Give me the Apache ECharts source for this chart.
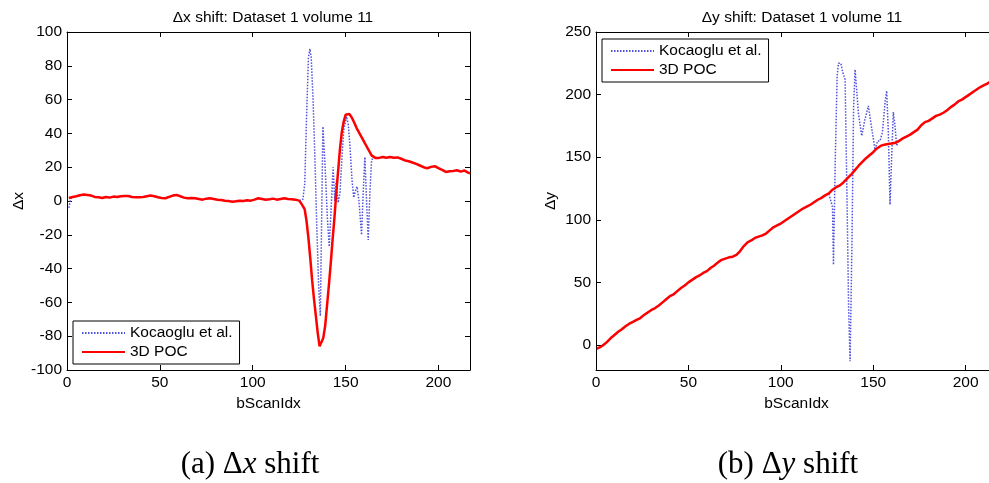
<!DOCTYPE html>
<html>
<head>
<meta charset="utf-8">
<script src="https://cdn.jsdelivr.net/npm/echarts@6/dist/echarts.min.js"></script>
<style>
html,body{margin:0;padding:0;background:#fff;}
#chart{width:989px;height:483px;}
</style>
</head>
<body>
<div id="chart"></div>
<script>
// ---------- data ----------
const xTicks = [0, 50, 100, 150, 200];
const dxTicks = [-100, -80, -60, -40, -20, 0, 20, 40, 60, 80, 100];
const dyTicks = [0, 50, 100, 150, 200, 250];

// 3D POC, delta x
const pocDxIdx = [1,3,5,7,9,11,13,15,17,19,21,23,25,27,29,31,33,35,37,39,41,43,45,47,49,51,53,55,57,59,61,63,65,67,69,71,73,75,77,79,81,83,85,87,89,91,93,95,97,99,101,103,105,107,109,111,113,115,117,119,121,123,125,126,127,128,129,130,131,132,133,134,135,136,137,138,139,140,141,142,143,144,145,146,147,148,149,150,151,152,153,154,155,156,157,158,159,160,161,162,163,164,165,166,168,170,172,174,176,178,180,182,184,186,188,190,192,194,196,198,200,202,204,206,208,210,212,214,216,217];
const pocDx = [1.8,2.4,2.8,3.4,3.8,3.6,3.2,2.4,2.2,1.8,2.4,2.0,2.6,2.4,2.8,3.0,3.0,2.4,2.2,2.2,2.4,2.8,3.2,2.8,2.2,1.8,1.6,2.4,3.2,3.6,2.8,2.0,1.6,1.8,1.6,1.2,0.8,1.4,1.6,1.2,0.8,0.6,0.2,0.0,-0.4,-0.2,0.2,0.0,0.4,0.2,0.8,1.6,1.2,0.8,1.0,1.4,0.8,1.2,1.6,1.2,1.0,0.8,0.2,-1.2,-3,-5,-12,-22,-34,-47,-58,-68,-78,-86,-85,-81,-74,-62,-50,-37,-23,-10,5,18,31,41,47,51,52,51.5,50,48,45.5,43,41,39,37,35,33,31,29,27,26,25.5,25.5,26,25.6,26,25.6,25.8,25,24,23.5,22.8,22,21,20,19.4,20.2,20.6,19.4,18.4,17.2,17.6,17.8,18.2,17.4,18.0,16.8,16.4];

// Kocaoglu et al., delta x (start and oscillating section; elsewhere it follows the POC curve)
const kocDxStartIdx = [1, 2];
const kocDxStart = [-4, 1.5];
const kocDxOscIdx = [126,127,128,129,130,130.8,131.5,132.5,133.5,134.5,135.5,136.4,137,137.8,139,140.2,141.2,142.2,143.3,144.2,145,146,147,148,149,150.5,151.5,152.5,153.5,154.4,155.3,156.2,157.2,158.6,159.5,160.4,161.3,162.2,163.1,164,165];
const kocDxOsc = [0.5,1,10,50,85,90,85,60,25,-15,-50,-68,-20,44,20,-10,-27,-5,20,0,12,-1,5,25,42,50,45,30,12,2,6,8.5,0,-20,5,26,0,-23,5,24,26];

// 3D POC, delta y
const pocDyIdx = [0.5,2,4,6,8,10,12,14,16,18,20,22,24,26,28,30,32,34,36,38,40,42,44,46,48,50,52,54,56,58,60,62,64,66,68,70,72,74,76,78,80,82,84,86,88,90,92,94,96,98,100,102,104,106,108,110,112,114,116,118,120,122,124,126,128,130,132,134,136,138,140,142,144,146,148,150,152,154,156,158,160,162,164,166,168,170,172,174,176,178,180,182,184,186,188,190,192,194,196,198,200,202,204,206,208,210,212,214,216,217];
const pocDy = [-3,-2,0,2.5,5.5,8,10.5,12.5,15,17,18.5,20,21.5,24,26,28,29.5,31.5,34,36.5,39,40.5,43,45.5,47.5,50,52,54,55.5,57.5,59,61.5,63.5,66,68,69,70,70.5,72,75,79,82,83.5,85.5,86.5,87.5,89,91.5,94,95.5,97,99,101,103,105,107,109,110.5,112,114,116,117.5,119.5,121,124,126,127.5,130,133,136,139.5,143,146,149,151.5,154,157,159,160,160.5,161,161.5,163,165,166.5,168,170,172,175.5,178,179,181,183,184,185.5,187.5,190,192,194.5,196,198,200,202,204,206,207.5,209,211,213,214];

// Kocaoglu et al., delta y oscillating section
const kocDyOscIdx = [126,127,128,128.5,129.5,130.5,131.2,132.5,133.5,134.8,135.8,136.7,137.5,138.5,139.4,140.2,141,142,143.8,145.5,147.4,149,151,152.4,153.7,155,156.5,157.3,158.2,159.1,160,160.9,161.8,162.7,163.6];
const kocDyOsc = [121,122,110,64,150,215,225,225,218,212,120,30,-13,80,190,220,205,185,167,180,191,175,156,163,163,170,195,203,170,112,150,186,175,159,163];

// ---------- build point lists ----------
function pts(xs, ys) { return xs.map((x, i) => [x, ys[i]]); }
const pocDxPts = pts(pocDxIdx, pocDx);
const kocDxPts = pts(kocDxStartIdx, kocDxStart)
  .concat(pocDxPts.filter(p => p[0] > 2 && p[0] < kocDxOscIdx[0]))
  .concat(pts(kocDxOscIdx, kocDxOsc))
  .concat(pocDxPts.filter(p => p[0] > kocDxOscIdx[kocDxOscIdx.length - 1]));
const pocDyPts = pts(pocDyIdx, pocDy);
const kocDyPts = pocDyPts.filter(p => p[0] < kocDyOscIdx[0])
  .concat(pts(kocDyOscIdx, kocDyOsc))
  .concat(pocDyPts.filter(p => p[0] > kocDyOscIdx[kocDyOscIdx.length - 1]));

// ---------- chart ----------
const FONT = 'Liberation Sans, Arial, sans-serif';
const FS = 15.5;
const BLUE = '#5050dc';
const RED = '#ff0000';
const names = ['Kocaoglu et al.', '3D POC'];

function xAx(grid, top) {
  return {
    gridIndex: grid, type: 'value', min: 0, max: 217,
    position: top ? 'top' : 'bottom',
    axisLine: { show: true, onZero: false, lineStyle: { color: '#000', width: 1 } },
    axisTick: { show: true, inside: true, length: 5, customValues: xTicks, lineStyle: { color: '#000' } },
    axisLabel: { show: !top, customValues: xTicks, color: '#000', fontSize: FS, fontFamily: FONT, margin: 5 },
    splitLine: { show: false },
    name: top ? '' : 'bScanIdx', nameLocation: 'middle', nameGap: 26,
    nameTextStyle: { color: '#000', fontSize: FS, fontFamily: FONT }
  };
}
function yAx(grid, right, min, max, ticks, name, gap) {
  return {
    gridIndex: grid, type: 'value', min: min, max: max,
    position: right ? 'right' : 'left',
    axisLine: { show: true, onZero: false, lineStyle: { color: '#000', width: 1 } },
    axisTick: { show: true, inside: true, length: 5, customValues: ticks, lineStyle: { color: '#000' } },
    axisLabel: { show: !right, customValues: ticks, color: '#000', fontSize: FS, fontFamily: FONT, margin: 5 },
    splitLine: { show: false },
    name: right ? '' : name, nameLocation: 'middle', nameGap: gap, nameRotate: 90,
    nameTextStyle: { color: '#000', fontSize: FS, fontFamily: FONT }
  };
}
function legend(left, top) {
  return {
    data: names, orient: 'vertical', left: left, top: top,
    backgroundColor: '#fff', borderColor: '#000', borderWidth: 1,
    padding: [4, 7, 4, 8], itemGap: 3, itemWidth: 43, itemHeight: 14,
    selectedMode: false,
    itemStyle: { opacity: 0 },
    textStyle: { color: '#000', fontSize: FS, fontFamily: FONT }
  };
}

const chart = echarts.init(document.getElementById('chart'), null, { renderer: 'canvas' });
chart.setOption({
  animation: false,
  backgroundColor: '#fff',
  title: [
    { text: 'Δx shift: Dataset 1 volume 11', left: 268, top: 5, textAlign: 'center',
      textStyle: { color: '#000', fontSize: FS, fontWeight: 'normal', fontFamily: FONT } },
    { text: 'Δy shift: Dataset 1 volume 11', left: 797, top: 5, textAlign: 'center',
      textStyle: { color: '#000', fontSize: FS, fontWeight: 'normal', fontFamily: FONT } }
  ],
  grid: [
    { left: 67, top: 32, width: 403, height: 338, show: false, outerBoundsMode: 'none', containLabel: false },
    { left: 596, top: 32, width: 401, height: 338, show: false, outerBoundsMode: 'none', containLabel: false }
  ],
  xAxis: [xAx(0, false), xAx(0, true), xAx(1, false), xAx(1, true)],
  yAxis: [
    yAx(0, false, -100, 100, dxTicks, 'Δx', 39),
    yAx(0, true, -100, 100, dxTicks, '', 0),
    yAx(1, false, -20, 250, dyTicks, 'Δy', 37),
    yAx(1, true, -20, 250, dyTicks, '', 0)
  ],
  legend: [legend(73, 321), legend(602, 39)],
  series: [
    { name: names[0], type: 'line', xAxisIndex: 0, yAxisIndex: 0, data: kocDxPts, symbol: 'none',
      lineStyle: { color: BLUE, width: 1.5, type: [1.5, 1.5] }, itemStyle: { color: BLUE } },
    { name: names[1], type: 'line', xAxisIndex: 0, yAxisIndex: 0, data: pocDxPts, symbol: 'none',
      lineStyle: { color: RED, width: 2.5 }, itemStyle: { color: RED } },
    { name: names[0], type: 'line', xAxisIndex: 2, yAxisIndex: 2, data: kocDyPts, symbol: 'none',
      lineStyle: { color: BLUE, width: 1.5, type: [1.5, 1.5] }, itemStyle: { color: BLUE } },
    { name: names[1], type: 'line', xAxisIndex: 2, yAxisIndex: 2, data: pocDyPts, symbol: 'none',
      lineStyle: { color: RED, width: 2.5 }, itemStyle: { color: RED } }
  ],
  graphic: [
    { type: 'text', x: 250, y: 465,
      style: { text: '{n|(a) Δ}{i|x}{n| shift}', align: 'center', verticalAlign: 'middle',
        rich: { n: { fontSize: 31, fontFamily: 'Liberation Serif, serif', fill: '#000' },
                i: { fontSize: 31, fontFamily: 'Liberation Serif, serif', fontStyle: 'italic', fill: '#000' } } } },
    { type: 'text', x: 788, y: 465,
      style: { text: '{n|(b) Δ}{i|y}{n| shift}', align: 'center', verticalAlign: 'middle',
        rich: { n: { fontSize: 31, fontFamily: 'Liberation Serif, serif', fill: '#000' },
                i: { fontSize: 31, fontFamily: 'Liberation Serif, serif', fontStyle: 'italic', fill: '#000' } } } }
  ]
});
</script>
</body>
</html>
